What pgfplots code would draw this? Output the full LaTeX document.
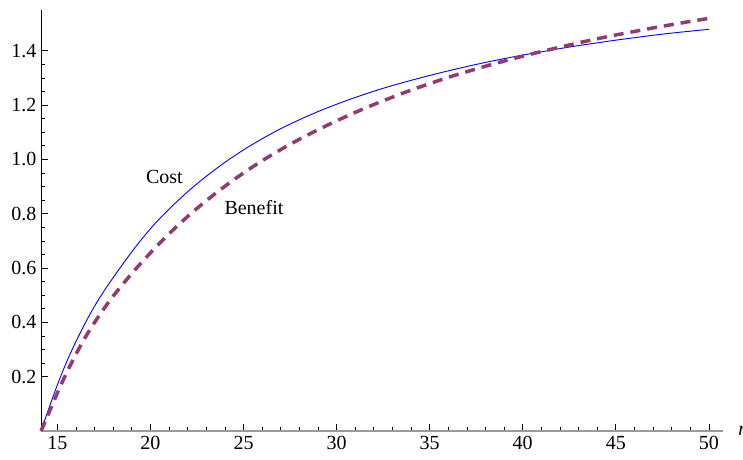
\documentclass[border=0pt]{standalone}
\usepackage{fontspec}
\setmainfont{LiberationSerif}[Extension=.ttf, UprightFont=*-Regular, ItalicFont=*-Italic, BoldFont=*-Bold]
\usepackage{pgfplots}
\pgfplotsset{compat=1.18}
\definecolor{costblue}{RGB}{0,0,255}
\definecolor{benpurple}{RGB}{148,58,112}
\newcommand{\lf}{\rmfamily\fontsize{20}{24}\selectfont}
\begin{document}
\rmfamily
\begin{tikzpicture}[x=1pt,y=1pt]
\useasboundingbox (0,0) rectangle (743,459);
\begin{axis}[
  at={(41pt,28pt)}, anchor=south west,
  scale only axis, width=682pt, height=421pt,
  xmin=14.12, xmax=50.76, ymin=0, ymax=1.55,
  axis x line*=bottom, axis y line*=left,
  x axis line style={gray!80, line width=1.2pt},
  y axis line style={black, line width=0.9pt},
  xtick={15,20,25,30,35,40,45,50},
  ytick={0.2,0.4,0.6,0.8,1.0,1.2,1.4},
  minor x tick num=4, minor y tick num=3,
  tick align=inside,
  major tick length=7pt, minor tick length=4pt,
  every tick/.style={black, line width=0.7pt},
  yticklabel style={/pgf/number format/fixed, /pgf/number format/fixed zerofill, /pgf/number format/precision=1, xshift=-1pt},
  /pgf/number format/assume math mode=true,
  tick label style={font=\lf},
  xticklabel style={yshift=-2pt},
  xlabel={\textit{n}},
  every axis x label/.style={at={(axis cs:51.57,0)}, anchor=west, inner sep=0pt, font=\lf},
  clip=false,
]
\addplot[costblue, line width=0.9pt, smooth] coordinates {
(14.12,0) (14.5,0.075) (15,0.17) (15.5,0.255) (16,0.33) (16.5,0.398) (17,0.46) (17.5,0.515) (18,0.565)
(19,0.66) (20,0.745) (21,0.817) (22,0.881) (23,0.938) (24,0.989) (25,1.035) (26,1.076) (27,1.113)
(28,1.146) (29,1.176) (30,1.203) (31,1.228) (32,1.251) (33,1.272) (34,1.291) (35,1.309)
(36,1.326) (37,1.342) (38,1.357) (39,1.371) (40,1.384) (41,1.396) (42,1.408) (43,1.419)
(44,1.429) (45,1.439) (46,1.448) (47,1.457) (48,1.465) (49,1.472) (50,1.479)
};
\addplot[benpurple, line width=3.5pt, dash pattern=on 10pt off 7pt, smooth] coordinates {
(14.12,0) (14.5,0.06) (15,0.14) (15.5,0.215) (16,0.283) (16.5,0.345) (17,0.40) (17.5,0.45) (18,0.497)
(19,0.58) (20,0.656) (21,0.726) (22,0.79) (23,0.848) (24,0.901) (25,0.95) (26,0.995) (27,1.036)
(28,1.074) (29,1.109) (30,1.142) (31,1.173) (32,1.202) (33,1.229) (34,1.255) (35,1.279)
(36,1.302) (37,1.323) (38,1.343) (39,1.362) (40,1.38) (41,1.397) (42,1.413) (43,1.429)
(44,1.444) (45,1.458) (46,1.471) (47,1.484) (48,1.496) (49,1.508) (50,1.519)
};
\node[font=\lf] at (axis cs:20.75,0.937) {Cost};
\node[font=\lf] at (axis cs:25.56,0.822) {Benefit};
\end{axis}
\end{tikzpicture}
\end{document}
